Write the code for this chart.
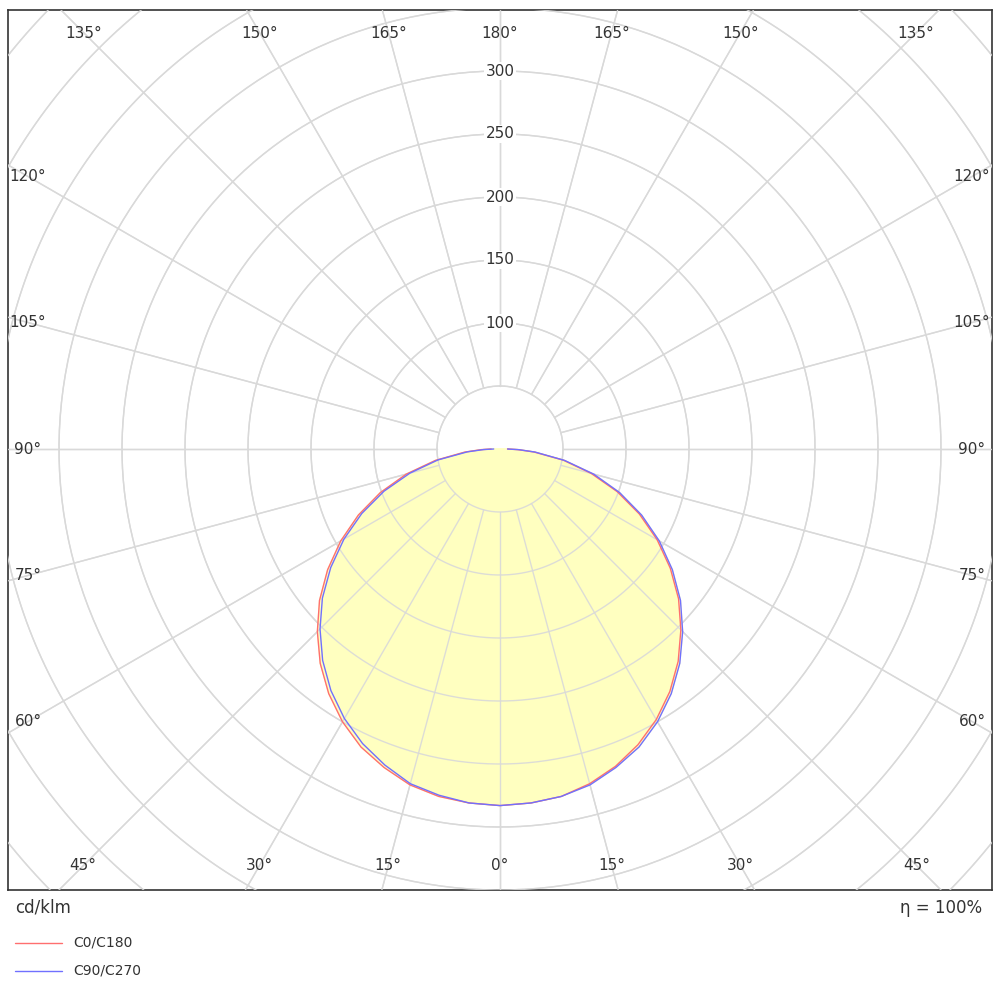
import numpy as np, pandas as pd, seaborn as sns, matplotlib
matplotlib.use("Agg")
import matplotlib.pyplot as plt

sns.set_style("white")
plt.rcParams['font.family'] = ['DejaVu Sans']

angles = [0,5,10,15,20,25,30,35,40,45,50,55,60,65,70,75,80,85,88,90]
c0   = [283,282,280,275,268,259,248,235,220,203,185,165,144,122,99,75,51,27,14,6]
c180 = [283,282,280,276,269,261,250,237,222,205,187,167,146,124,101,77,52,28,15,7]
c90  = [283,282,280,276,269,261,250,237,222,205,187,167,146,124,101,77,52,28,15,6]
c270 = [283,282,279,275,267,258,247,234,219,202,184,164,143,121,98,74,50,26,13,5]
rings = [50,100,150,200,250,300,350,400,450,500]
ring_labels = [100,150,200,250,300]
ray_angles = list(range(0,360,15))

S = 1.26  # px per unit
fig = plt.figure(figsize=(10,10), dpi=100)
ax = fig.add_axes([0.008, 0.11, 0.984, 0.88])
W = 492/S
ax.set_xlim(-W, W); ax.set_ylim(-441/S, 439/S)
ax.set_aspect('auto')
ax.set_xticks([]); ax.set_yticks([])
for s in ax.spines.values():
    s.set_color('#333333'); s.set_linewidth(1.2)

gc = '#d9d9d9'
t = np.linspace(0, 2*np.pi, 400)
def grid(z, alpha=1.0):
    for r in rings:
        ax.plot(r*np.sin(t), r*np.cos(t), color=gc, lw=1, zorder=z, alpha=alpha)
    for a in ray_angles:
        th = np.radians(a)
        ax.plot([50*np.sin(th), 600*np.sin(th)], [-50*np.cos(th), -600*np.cos(th)], color=gc, lw=1, zorder=z, alpha=alpha)
grid(1)

def xy(ang, vals, side):
    th = np.radians(np.array(ang))
    v = np.array(vals, float)
    return side*v*np.sin(th), -v*np.cos(th)

rx1, ry1 = xy(angles, c0, 1); rx2, ry2 = xy(angles, c180, -1)
bx1, by1 = xy(angles, c90, 1); bx2, by2 = xy(angles, c270, -1)
red = pd.DataFrame({'x': np.r_[rx2[::-1], rx1], 'y': np.r_[ry2[::-1], ry1]})
blue = pd.DataFrame({'x': np.r_[bx2[::-1], bx1], 'y': np.r_[by2[::-1], by1]})
ax.fill(red.x, red.y, color='#ffffc0', zorder=2)
ax.fill(blue.x, blue.y, color='#ffffc0', zorder=2)
grid(3, 0.9)
sns.lineplot(data=red, x='x', y='y', sort=False, color='#ff6f6f', lw=1, ax=ax, zorder=4)
sns.lineplot(data=blue, x='x', y='y', sort=False, color='#7070ff', lw=1, ax=ax, zorder=5)
ax.set_xlabel(''); ax.set_ylabel('')

for v in ring_labels:
    ax.text(0, v, str(v), ha='center', va='center', fontsize=11, color='#333333', zorder=6,
            bbox=dict(facecolor='white', edgecolor='none', pad=1))

top_y = (449-33)/S; bot_y = -(866-449)/S; side_x = (500-28)/S
fs = 11
for a in [0,15,30,45]:
    x = bot_y*-np.tan(np.radians(a))
    for sx in ([1,-1] if a else [1]):
        ax.text(sx*x, bot_y, f"{a}°", ha='center', va='center', fontsize=fs, color='#333333')
for a in [135,150,165,180]:
    x = top_y*np.tan(np.radians(180-a))
    for sx in ([1,-1] if a != 180 else [1]):
        ax.text(sx*x, top_y, f"{a}°", ha='center', va='center', fontsize=fs, color='#333333')
for a in [60,75,90,105,120]:
    y = -side_x/np.tan(np.radians(a)) if a != 90 else 0
    ax.text(-side_x, y, f"{a}°", ha='center', va='center', fontsize=fs, color='#333333')
    ax.text(side_x, y, f"{a}°", ha='center', va='center', fontsize=fs, color='#333333')

fig.text(0.015, 0.092, "cd/klm", fontsize=12, color='#333333', va='center')
fig.text(0.982, 0.092, "η = 100%", fontsize=12, color='#333333', va='center', ha='right')
for yy, col, lab in [(0.057, '#ff6f6f', 'C0/C180'), (0.029, '#7070ff', 'C90/C270')]:
    fig.add_artist(plt.Line2D([0.015, 0.062], [yy, yy], color=col, lw=1))
    fig.text(0.073, yy, lab, fontsize=10, color='#333333', va='center')

fig.savefig("out.png", dpi=100)
